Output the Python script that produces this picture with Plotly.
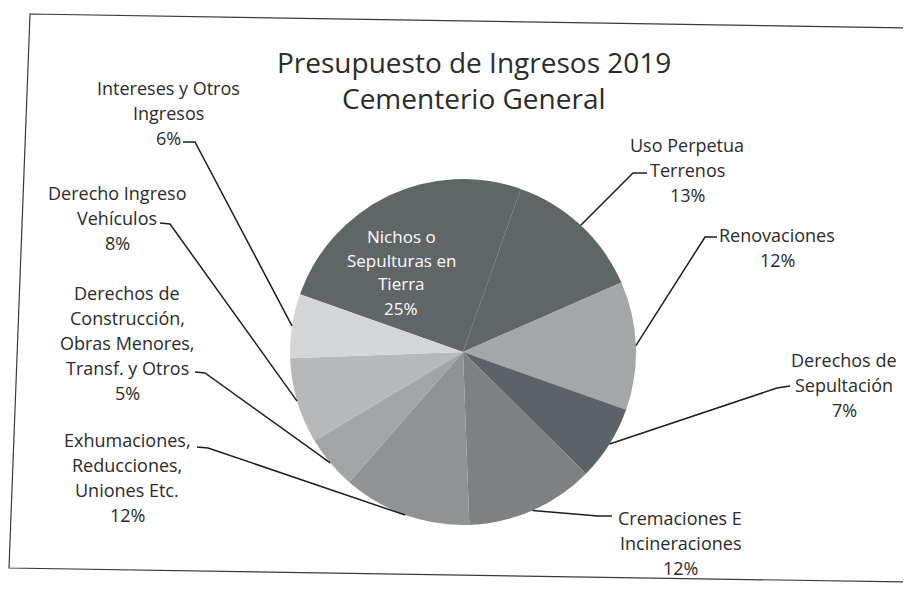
import math
import plotly.graph_objects as go

# ---------------- data ----------------
categories = [
    "Nichos o Sepulturas en Tierra",
    "Uso Perpetua Terrenos",
    "Renovaciones",
    "Derechos de Sepultación",
    "Cremaciones E Incineraciones",
    "Exhumaciones, Reducciones, Uniones Etc.",
    "Derechos de Construcción, Obras Menores, Transf. y Otros",
    "Derecho Ingreso Vehículos",
    "Intereses y Otros Ingresos",
]
values = [25, 13, 12, 7, 12, 12, 5, 8, 6]
label_lines = [
    ["Nichos o", "Sepulturas en", "Tierra"],
    ["Uso Perpetua", "Terrenos"],
    ["Renovaciones"],
    ["Derechos de", "Sepultación"],
    ["Cremaciones E", "Incineraciones"],
    ["Exhumaciones,", "Reducciones,", "Uniones Etc."],
    ["Derechos de", "Construcción,", "Obras Menores,", "Transf. y Otros"],
    ["Derecho Ingreso", "Vehículos"],
    ["Intereses y Otros", "Ingresos"],
]
title_lines = ["Presupuesto de Ingresos 2019", "Cementerio General"]

# ---------------- styling / layout ----------------
PAGE_W, PAGE_H = 911, 595
OFF = 8                              # default body margin of the html page
W, H = PAGE_W - OFF, PAGE_H - OFF    # figure size so it fits the window
CX, CY, R = 463, 352, 173            # pie centre and radius (page pixels)
ROT = -70.5                          # start angle of first slice (clockwise from 12 o'clock)
colors = ["#606568", "#606568", "#a3a7aa", "#5c6265", "#7d8184",
          "#8f9396", "#a2a5a8", "#b6b8ba", "#d4d5d7"]
TEXT = "#2b2b2b"
FONT = "Open Sans"
LS = 25  # label line spacing in px

# label placement: (text centre x, first line y, stub start, knee) in page pixels
placement = [
    (401, 236, None, None),
    (687, 145, (647, 173), (633, 173)),
    (777, 235, (717, 237), (705, 237)),
    (844, 360, (790, 386), (777, 388)),
    (680, 518, (612, 516), (598, 516)),
    (127, 440, (197, 447), (208, 448)),
    (127, 293, (195, 372), (205, 373)),
    (117, 193, (160, 223), (170, 224)),
    (168, 88, (183, 142), (195, 142)),
]


def px(x):
    return (x - OFF) / W


def py(y):
    return 1 - (y - OFF) / H


total = sum(values)
fig = go.Figure(go.Pie(
    labels=categories,
    values=values,
    sort=False,
    direction="clockwise",
    rotation=ROT,
    marker=dict(colors=colors, line=dict(width=0)),
    textinfo="none",
    hoverinfo="label+percent",
    showlegend=False,
    domain=dict(x=[px(CX - R), px(CX + R)], y=[py(CY + R), py(CY - R)]),
))

annotations = []
shapes = []
cum = 0.0
for i, (v, lines) in enumerate(zip(values, label_lines)):
    mid = math.radians(ROT + 360.0 * (cum + v / 2.0) / total)
    cum += v
    ex = CX + R * math.sin(mid)
    ey = CY - R * math.cos(mid)
    tx, ty, stub, knee = placement[i]
    pct = f"{round(100 * v / total)}%"
    all_lines = lines + [pct]
    col = "white" if i == 0 else TEXT
    size = 17 if i == 0 else 18
    for k, t in enumerate(all_lines):
        annotations.append(dict(
            x=px(tx), y=py(ty + k * (24 if i == 0 else LS)), xref="paper", yref="paper",
            text=t, showarrow=False, xanchor="center", yanchor="middle",
            font=dict(family=FONT, size=size, color=col),
        ))
    if stub is not None:
        path = (f"M {px(stub[0])},{py(stub[1])} L {px(knee[0])},{py(knee[1])} "
                f"L {px(ex)},{py(ey)}")
        shapes.append(dict(type="path", path=path, xref="paper", yref="paper",
                           line=dict(color="#1e1e1e", width=1.5)))

# title
for k, t in enumerate(title_lines):
    annotations.append(dict(
        x=px(474), y=py(62 + 36 * k), xref="paper", yref="paper", text=t,
        showarrow=False, xanchor="center", yanchor="middle",
        font=dict(family=FONT, size=28, color=TEXT),
    ))

# chart frame (slightly skewed like the scanned page)
frame = (f"M {px(30)},{py(14)} L {px(908)},{py(28)} L {px(905)},{py(582)} "
         f"L {px(9)},{py(568)} Z")
shapes.append(dict(type="path", path=frame, xref="paper", yref="paper",
                   line=dict(color="#3a3a3a", width=1.2)))

fig.update_layout(
    width=W, height=H,
    margin=dict(l=0, r=0, t=0, b=0),
    paper_bgcolor="white", plot_bgcolor="white",
    annotations=annotations, shapes=shapes,
)

fig.write_html("out.html")
